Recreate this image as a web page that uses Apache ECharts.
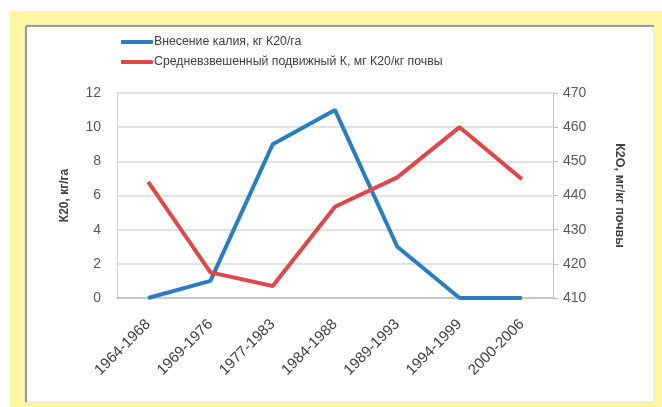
<!DOCTYPE html>
<html><head><meta charset="utf-8">
<script src="https://cdn.jsdelivr.net/npm/echarts@6/dist/echarts.min.js"></script>
<style>html,body{margin:0;padding:0;background:#fff}#c{width:662px;height:407px}</style>
</head><body><div id="c"></div>
<script>
const categories = ['1964-1968','1969-1976','1977-1983','1984-1988','1989-1993','1994-1999','2000-2006'];
const potassiumApplied = [0, 1, 9, 11, 3, 0, 0];
const mobileK = [444, 417.5, 413.5, 436.7, 445.3, 460, 444.8];
const seriesNames = ['Внесение калия, кг К20/га', 'Средневзвешенный подвижный К, мг К20/кг почвы'];
const leftAxisName = 'К20, кг/га';
const rightAxisName = 'К2О, мг/кг почвы';

const chart = echarts.init(document.getElementById('c'), null, {renderer:'canvas'});
const FONT = 'Liberation Sans';
chart.setOption({
  animation:false,
  textStyle:{fontFamily:FONT},
  graphic:[
    {type:'rect', z:-10, shape:{x:10,y:11,width:652,height:396}, style:{fill:'#FFF5A2'}},
    {type:'rect', z:-9, shape:{x:25,y:25,width:629,height:377}, style:{fill:'#fff', stroke:'#e3e3e3', lineWidth:1}},
    {type:'line', z:-8, shape:{x1:26,y1:26,x2:654,y2:26}, style:{stroke:'#9a9a9a', lineWidth:2}},
    {type:'line', z:-8, shape:{x1:26,y1:26,x2:26,y2:402}, style:{stroke:'#9a9a9a', lineWidth:2}}
  ],
  legend:{
    orient:'vertical', left:116, top:31, itemGap:8,
    itemWidth:32, itemHeight:4, icon:'roundRect',
    textStyle:{fontSize:12.3, color:'#404040', fontFamily:FONT, padding:[0,0,0,-4]},
    data:seriesNames
  },
  grid:{left:117, right:109, top:93, bottom:109, containLabel:false},
  xAxis:{
    type:'category', data:categories, boundaryGap:true,
    axisLine:{lineStyle:{color:'#bfbfbf', width:1.5}},
    axisTick:{show:false},
    axisLabel:{rotate:45, fontSize:15, color:'#404040', margin:24, interval:0, fontFamily:FONT}
  },
  yAxis:[
    {type:'value', min:0, max:12, interval:2, position:'left',
     name:leftAxisName, nameLocation:'middle', nameGap:46,
     nameTextStyle:{fontSize:12, fontWeight:'bold', color:'#404040', fontFamily:FONT},
     axisLine:{show:true, lineStyle:{color:'#d0d0d0', width:1}},
     axisTick:{show:false},
     axisLabel:{fontSize:14, color:'#595959', margin:16, fontFamily:FONT},
     splitLine:{lineStyle:{color:'#d9d9d9', width:1.5}}},
    {type:'value', min:410, max:470, interval:10, position:'right',
     name:rightAxisName, nameLocation:'middle', nameGap:60, nameRotate:-90,
     nameTextStyle:{fontSize:12.5, fontWeight:'bold', color:'#404040', fontFamily:FONT},
     axisLine:{show:true, lineStyle:{color:'#bfbfbf', width:1}},
     axisTick:{show:true, length:5, inside:false, lineStyle:{color:'#bfbfbf'}},
     axisLabel:{fontSize:14, color:'#595959', margin:10, fontFamily:FONT},
     splitLine:{show:false}}
  ],
  series:[
    {name:seriesNames[0], type:'line', yAxisIndex:0, data:potassiumApplied,
     symbol:'none', lineStyle:{color:'#2B7CC0', width:4}, itemStyle:{color:'#2B7CC0'}},
    {name:seriesNames[1], type:'line', yAxisIndex:1, data:mobileK,
     symbol:'none', lineStyle:{color:'#DE4849', width:4}, itemStyle:{color:'#DE4849'}}
  ]
});
</script></body></html>
